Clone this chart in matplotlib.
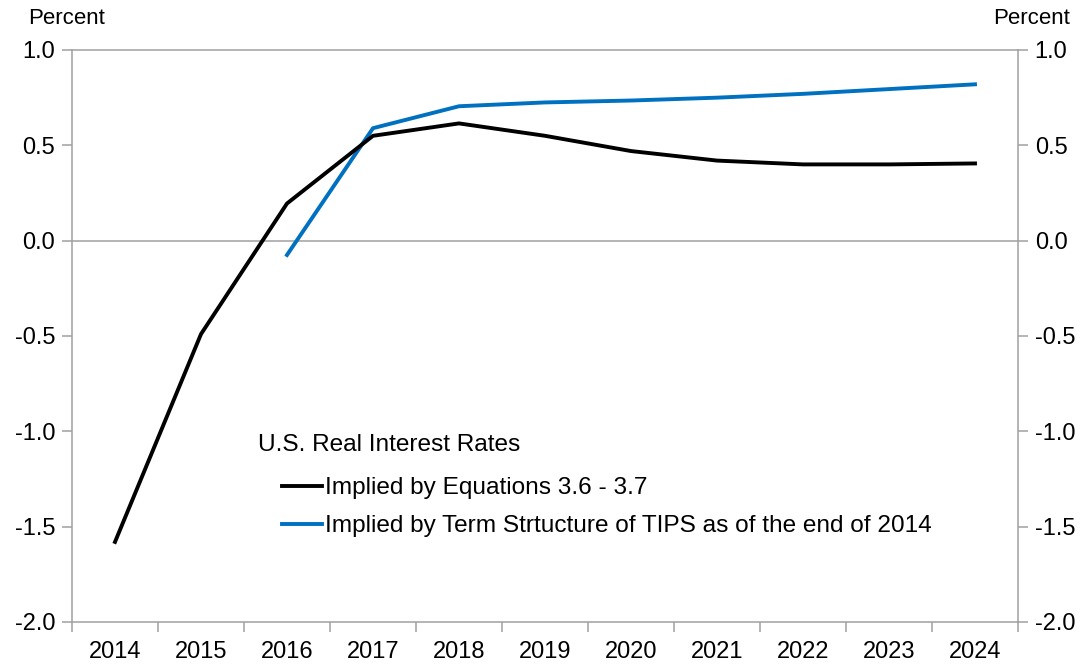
import matplotlib.pyplot as plt
import numpy as np

plt.rcParams['font.family'] = ['Liberation Sans', 'DejaVu Sans']

years = [2014, 2015, 2016, 2017, 2018, 2019, 2020, 2021, 2022, 2023, 2024]
eq_rates = [-1.58, -0.49, 0.195, 0.55, 0.615, 0.55, 0.47, 0.42, 0.40, 0.40, 0.405]
tips_years = [2016, 2017, 2018, 2019, 2020, 2021, 2022, 2023, 2024]
tips_rates = [-0.075, 0.59, 0.705, 0.725, 0.735, 0.75, 0.77, 0.795, 0.82]

grey = '#a0a0a0'
fs = 17
leg_fs = 17.6

fig = plt.figure(figsize=(10.85, 6.69), dpi=100)
ax = fig.add_axes([72 / 1085, 1 - 622 / 669, 946 / 1085, 572 / 669])

x = np.arange(len(years))
tx = np.array([years.index(y) for y in tips_years])

ax.axhline(0, color=grey, lw=1.1, zorder=1)
ax.plot(x, eq_rates, color='black', lw=2.8, label='Implied by Equations 3.6 - 3.7', zorder=3)
ax.plot(tx, tips_rates, color='#0070c0', lw=2.8,
        label='Implied by Term Strtucture of TIPS as of the end of 2014', zorder=2)

ax.set_xlim(-0.5, len(years) - 0.5)
ax.set_ylim(-2.0, 1.0)
yt = np.arange(-2.0, 1.01, 0.5)
ax.set_yticks(yt)
ax.set_yticklabels([f'{v:.1f}' for v in yt])
ax.set_xticks(x)
ax.set_xticklabels([str(y) for y in years])
ax.set_xticks(np.arange(-0.5, len(years), 1), minor=True)

for s in ax.spines.values():
    s.set_color(grey)
    s.set_linewidth(1.1)

ax.tick_params(axis='x', which='major', length=0, pad=14, labelsize=fs)
ax.tick_params(axis='x', which='minor', length=7, color=grey, width=1.1)
ax.tick_params(axis='y', length=7, color=grey, width=1.1, labelsize=fs, pad=5,
               right=True, labelright=True)

fig.text(28 / 1085, 1 - 19 / 669, 'Percent', fontsize=16, va='center', ha='left')
fig.text(1070 / 1085, 1 - 19 / 669, 'Percent', fontsize=16, va='center', ha='right')

# legend title sits a little left of the line samples
ax.text(0.197, 0.31, 'U.S. Real Interest Rates', transform=ax.transAxes,
        fontsize=leg_fs, va='center', ha='left')
ax.legend(loc='center left', bbox_to_anchor=(0.222, 0.201), frameon=False,
          fontsize=leg_fs, handlelength=1.65, handletextpad=0.1, labelspacing=0.65,
          borderpad=0, borderaxespad=0)

fig.savefig('out.png', dpi=100)
